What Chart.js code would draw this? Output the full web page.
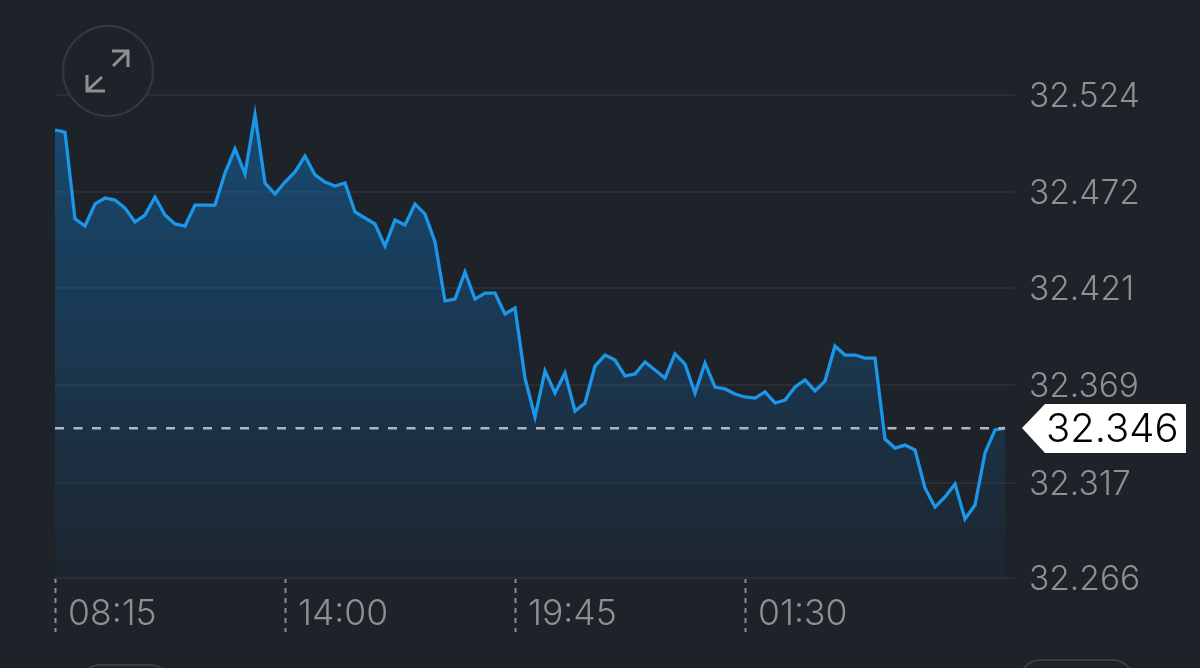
<!DOCTYPE html>
<html>
<head>
<meta charset="utf-8">
<style>
html,body{margin:0;padding:0;background:#1e2229;width:1200px;height:668px;overflow:hidden}
#wrap{position:relative;width:1200px;height:668px}
canvas{position:absolute;left:0;top:0}
svg{position:absolute;left:0;top:0}
</style>
<script src="https://cdn.jsdelivr.net/npm/chart.js@4"></script>
</head>
<body>
<div id="wrap">
<canvas id="c" width="1200" height="668"></canvas>
<svg width="1200" height="668" viewBox="0 0 1200 668" fill="none">
  <circle cx="108" cy="71" r="45" fill="#1e2229" stroke="#35383e" stroke-width="2"/>
  <path d="M113 66 L127 52 M112 51 H128 V67 M102 77 L88 90 M87 75 V91 H105" stroke="#8e9094" stroke-width="3"/>
  <rect x="80" y="665" width="90" height="40" rx="20" stroke="#3a3d43" stroke-width="2"/>
  <rect x="1020" y="660" width="113" height="40" rx="20" stroke="#3a3d43" stroke-width="2"/>
</svg>
</div>
<script>
const prices = [32.5053,32.5042,32.4578,32.4540,32.4658,32.4690,32.4679,32.4636,32.4562,32.4599,32.4695,32.4599,
32.4551,32.4540,32.4652,32.4652,32.4652,32.4823,32.4952,32.4818,32.5135,32.4770,32.4711,32.4775,
32.4829,32.4914,32.4813,32.4775,32.4754,32.4770,32.4615,32.4583,32.4551,32.4433,32.4572,32.4546,
32.4658,32.4604,32.4455,32.4140,32.4150,32.4295,32.4150,32.4182,32.4182,32.4070,32.4102,32.3728,
32.3520,32.3766,32.3648,32.3755,32.3552,32.3595,32.3792,32.3851,32.3824,32.3739,32.3750,32.3814,
32.3771,32.3728,32.3857,32.3803,32.3648,32.3808,32.3680,32.3670,32.3643,32.3627,32.3621,32.3654,
32.3595,32.3611,32.3680,32.3718,32.3659,32.3712,32.3899,32.3851,32.3851,32.3835,32.3835,32.3402,
32.3354,32.3370,32.3344,32.3141,32.3039,32.3093,32.3162,32.2975,32.3050,32.3328,32.3451,32.3461];
const currentPrice = 32.346;
const priceTicks = [32.266,32.317,32.369,32.421,32.472,32.524];
const timeTickIndexes = [0,23,46,69];
const timeTickLabels = ["08:15","14:00","19:45","01:30"];
const lastIndex = prices.length - 1;
const axisEnd = prices.length;

const FONT = "Inter, 'Noto Sans', sans-serif";

const priceTag = {
  id:'priceTag',
  afterDraw(chart){
    const {ctx, scales:{y}} = chart;
    const py = Math.round(y.getPixelForValue(currentPrice));
    ctx.save();
    ctx.fillStyle='#ffffff';
    ctx.beginPath();
    ctx.moveTo(1022,py);
    ctx.lineTo(1045,py-24);
    ctx.lineTo(1186,py-24);
    ctx.lineTo(1186,py+25);
    ctx.lineTo(1045,py+25);
    ctx.closePath();
    ctx.fill();
    ctx.fillStyle='#000000';
    ctx.font="300 40px "+FONT;
    ctx.textAlign='left';
    ctx.textBaseline='middle';
    ctx.fillText(currentPrice.toFixed(3),1046,py+2);
    ctx.restore();
  }
};

new Chart(document.getElementById('c'),{
  type:'line',
  data:{datasets:[
    {
      data:prices.map((v,i)=>({x:i,y:v})),
      borderColor:'#1b97ea',
      borderWidth:3.3,
      pointRadius:0,
      tension:0,
      fill:'start',
      clip:false,
      order:1,
      borderJoinStyle:'miter',
      backgroundColor(ctx){
        const a=ctx.chart.chartArea;
        if(!a) return 'transparent';
        const g=ctx.chart.ctx.createLinearGradient(0,a.top,0,a.bottom);
        g.addColorStop(0,'rgba(20,105,170,0.58)');
        g.addColorStop(1,'rgba(20,105,170,0.05)');
        return g;
      }
    },
    {
      data:[{x:0,y:currentPrice},{x:lastIndex,y:currentPrice}],
      borderColor:'#aeb7bf',
      borderWidth:2.5,
      borderDash:[9,9.5],
      pointRadius:0,
      fill:false,
      order:0
    }
  ]},
  plugins:[priceTag],
  options:{
    responsive:false,
    animation:false,
    layout:{padding:{left:55,top:95,right:0,bottom:0}},
    plugins:{legend:{display:false},tooltip:{enabled:false}},
    scales:{
      x:{
        type:'linear',min:0,max:axisEnd,
        afterBuildTicks(s){s.ticks=timeTickIndexes.map(v=>({value:v}));},
        afterFit(s){s.height=90;},
        border:{display:false},
        grid:{drawOnChartArea:false,drawTicks:true,tickLength:54,tickColor:'#8b8e93',tickBorderDash:[5,5],tickWidth:2},
        ticks:{
          autoSkip:false,maxRotation:0,align:'start',labelOffset:13,padding:-39,
          color:'#8e9094',font:{family:FONT,size:35.5,weight:'300'},
          callback(v){return timeTickLabels[timeTickIndexes.indexOf(v)];}
        }
      },
      y:{
        position:'right',min:priceTicks[0],max:priceTicks[priceTicks.length-1],
        afterBuildTicks(s){s.ticks=priceTicks.map(v=>({value:v}));},
        afterFit(s){s.width=185;},
        border:{display:false},
        grid:{color:'#2a2d33',lineWidth:2,drawTicks:false},
        ticks:{
          padding:14,autoSkip:false,z:1,labelOffset:2,
          color:'#8e9094',font:{family:FONT,size:33.5,weight:'300'},
          callback(v){return v.toFixed(3);}
        }
      }
    }
  }
});
</script>
</body>
</html>
